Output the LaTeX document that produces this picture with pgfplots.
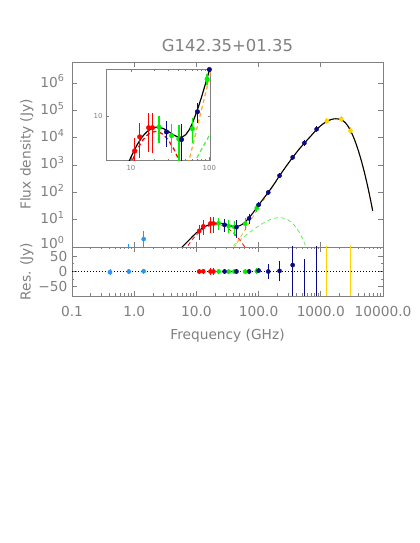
\documentclass[border=0pt]{standalone}
\usepackage{fontspec}
\setmainfont{DejaVu Sans}
\usepackage{pgfplots}
\usepackage{pgfplotstable}
\pgfplotsset{compat=1.18}

\definecolor{axgray}{RGB}{128,128,128}
\definecolor{cnavy}{RGB}{10,10,130}
\definecolor{cred}{RGB}{255,0,0}
\definecolor{cgreen}{RGB}{0,240,0}
\definecolor{cltblue}{RGB}{40,150,255}
\definecolor{cgold}{RGB}{255,210,0}
\definecolor{corange}{RGB}{255,170,50}
\definecolor{cdgreen}{RGB}{90,235,90}

% frequency (GHz), flux (Jy), error, residual, residual error
\pgfplotstableread{
f S e r re
0.408 0.5 0.3 -2 2
0.82 0.75 0.3 0 1.5
1.42 1.95 1.25 1 1.25
}\ltblueT
\pgfplotstableread{
f S e r re
11.1 3.9 1.7 0 1.7
12.9 5.7 2.5 0.5 2.5
16.8 7.3 3.5 0 3.5
18.8 7.3 3.6 0 3.6
}\redT
\pgfplotstableread{
f S e r re
22.8 7.4 2.6 0 2.6
33.0 5.9 2.2 -0.5 2.2
40.7 5.4 2.5 0 2.5
60.7 7.1 2.3 -0.5 2.3
93.5 27 3.7 1 3.7
}\greenT
\pgfplotstableread{
f S e r re
28.4 6.5 2.2 0 2.2
44.1 5.3 2.7 0 2.7
70.4 11.2 3.0 0 3
100 35 1.5 3 2
143 100 4 0 17
217 410 15 2 27
353 1930 100 21 400
545 6430 400 -120 154
857 20800 1500 300 2000
}\navyT
\pgfplotstableread{
f S e r re
1249 41500 3000 500 3000
2141 49500 4000 5000 100
2998 18200 2000 -400 3000
}\goldT

\pgfplotsset{
 idl/.style={scale only axis, clip=true,
  axis line style={axgray, line width=0.8bp},
  tick style={axgray, line width=0.8bp},
  tick align=inside, major tick length=5bp, minor tick length=2.5bp,
  tick label style={text=axgray, font=\fontsize{13.8}{16}\selectfont},
  label style={text=axgray, font=\fontsize{13.8}{16}\selectfont}},
 pt/.style={only marks, mark=*, mark size=2.1bp, color=#1, draw=#1,
  mark options={fill=#1, draw=#1, solid},
  /pgfplots/error bars/y dir=both, /pgfplots/error bars/y explicit,
  /pgfplots/error bars/error bar style={line width=0.9bp, draw=#1, color=#1, solid},
  /pgfplots/error bars/error mark options={mark size=2bp, line width=0.9bp, draw=#1, color=#1}},
 ipt/.style={only marks, mark=*, mark size=2.3bp, color=#1, draw=#1,
  mark options={fill=#1, draw=#1, solid},
  /pgfplots/error bars/y dir=both, /pgfplots/error bars/y explicit,
  /pgfplots/error bars/error mark=none,
  /pgfplots/error bars/error bar style={line width=1.6bp, draw=#1, color=#1, solid}},
 ame/.style={cred, dash pattern=on 4bp off 3bp, line width=#1},
 cmb/.style={cdgreen, dash pattern=on 4bp off 3bp, line width=#1},
 dust/.style={corange, dash pattern=on 4bp off 3bp, line width=#1},
 tot/.style={black, line width=#1},
}

\newcommand{\ameC}{(5,0.24) (6,0.535) (7,0.96) (8,1.51) (9,2.13) (10,2.78) (12,4.07) (14,5.16) (16,5.94) (18,6.40) (20.6,6.6) (23,6.47) (26,6.04) (30,5.23) (35,4.15) (40,3.19) (45,2.41) (50,1.80) (55,1.34) (60,1.00) (70,0.56) (80,0.32) (100,0.11)}
\newcommand{\cmbC}{(10,0.076) (20,0.30) (30,0.67) (40,1.165) (50,1.78) (60,2.49) (70,3.29) (80,4.13) (100,5.91) (120,7.64) (150,9.86) (180,11.32) (217,11.96) (250,11.55) (300,9.78) (350,7.47) (400,5.27) (450,3.49) (500,2.21) (550,1.34) (600,0.785) (700,0.25)}
\newcommand{\hiC}{(1000,28030) (1100,33120) (1249,39820) (1400,45150) (1550,48480) (1700,49840) (1850,49640) (2000,48110) (2141,45540) (2300,41500) (2500,35120) (2750,26390) (3000,18620) (3250,12620) (3500,8360) (3750,5440) (4000,3500) (4500,1420) (5000,569) (5500,228) (6000,92) (6400,45) (6830,21)}
\newcommand{\dustC}{(20,0.07) (30,0.31) (35,0.55) (40,0.91) (45,1.42) (50,2.1) (55,3.0) (60,4.15) (70,7.4) (80,12.2) (90,18.9) (100,28) (120,52) (143,90) (180,201) (217,398) (280,923) (353,1923) (450,3890) (545,6429) (700,12000) (857,20420) \hiC}
\newcommand{\totC}{(5.5,0.87) (6,1.04) (7,1.47) (8,2.02) (9,2.65) (10,3.31) (12,4.63) (14,5.75) (16,6.56) (18,7.06) (20.6,7.41) (23,7.37) (26,7.12) (30,6.60) (35,6.00) (40,5.65) (45,5.67) (50,6.05) (55,6.84) (60,8.01) (70,11.6) (80,17.0) (90,24.5) (100,34.4) (120,60) (143,100) (180,212) (217,410) (280,933) (353,1930) (450,3894) (545,6430) (700,12000) (857,20420) \hiC}

\begin{document}
\begin{tikzpicture}
\useasboundingbox (0,0) rectangle (420bp,-543bp);

% ---------------- main panel
\begin{axis}[idl, at={(72bp,-247bp)}, anchor=south west, width=311bp, height=185bp,
 xmode=log, ymode=log, xmin=0.1, xmax=10000, ymin=1, ymax=6e6,
 xtick={0.1,1,10,100,1000,10000}, xticklabels={}, xminorticks=false, yminorticks=false,
 ytick={1,10,100,1000,10000,100000,1000000},
 yticklabels={\raisebox{2.5bp}{10\textsuperscript{0}},10\textsuperscript{1},10\textsuperscript{2},10\textsuperscript{3},10\textsuperscript{4},10\textsuperscript{5},10\textsuperscript{6}},
 yticklabel style={anchor=base east, yshift=-3.8bp, xshift=-4bp},
 title={G142.35+01.35},
 title style={at={(0.5,1)}, anchor=base, yshift=4.5bp, text=axgray, font=\fontsize{16.5}{19}\selectfont},
 ylabel={Flux density (Jy)},
 ylabel style={at={(axis description cs:-0.145,0.5)}, anchor=center},
]
\addplot[ame=0.8bp] coordinates {\ameC};
\addplot[cmb=0.7bp] coordinates {\cmbC};
\addplot[dust=0.8bp] coordinates {\dustC};
\addplot[tot=1.1bp] coordinates {\totC};
\addplot[pt=cltblue] table[x=f, y=S, y error=e] {\ltblueT};
\addplot[pt=cred] table[x=f, y=S, y error=e] {\redT};
\addplot[pt=cgreen] table[x=f, y=S, y error=e] {\greenT};
\addplot[pt=cnavy] table[x=f, y=S, y error=e] {\navyT};
\addplot[pt=cgold] table[x=f, y=S, y error=e] {\goldT};
\end{axis}

% ---------------- residual panel
\begin{axis}[idl, at={(72bp,-296bp)}, anchor=south west, width=311bp, height=49bp,
 xmode=log, xmin=0.1, xmax=10000, ymin=-80, ymax=80,
 xtick={0.1,1,10,100,1000,10000},
 xticklabels={0.1,1.0,10.0,100.0,1000.0,10000.0},
 xticklabel style={yshift=-7bp},
 ytick={-50,0,50}, yticklabels={−50,0,50}, minor y tick num=1,
 yticklabel style={xshift=-1bp},
 xlabel={Frequency (GHz)},
 xlabel style={at={(axis description cs:0.5,0)}, anchor=base, yshift=-44bp},
 ylabel={Res. (Jy)},
 ylabel style={at={(axis description cs:-0.145,0.5)}, anchor=center},
]
\addplot[black, line width=0.7bp, dash pattern=on 1bp off 2bp] coordinates {(0.1,0) (10000,0)};
\addplot[pt=cltblue] table[x=f, y=r, y error=re] {\ltblueT};
\addplot[pt=cred] table[x=f, y=r, y error=re] {\redT};
\addplot[pt=cgreen] table[x=f, y=r, y error=re] {\greenT};
\addplot[pt=cnavy] table[x=f, y=r, y error=re] {\navyT};
\addplot[pt=cgold] table[x=f, y=r, y error=re] {\goldT};
\end{axis}

% ---------------- inset
\begin{axis}[idl, at={(106bp,-160.3bp)}, anchor=south west, width=104.7bp, height=91bp,
 xmode=log, ymode=log, xmin=4.8, xmax=104, ymin=3.03, ymax=35.2,
 xtick={10,100}, xticklabels={10,100}, ytick={10}, yticklabels={10},
 major tick length=3bp, minor tick length=1.6bp,
 tick label style={font=\fontsize{7}{8}\selectfont},
 xticklabel style={yshift=-2bp},
 axis background/.style={fill=white},
]
\addplot[ame=1.3bp] coordinates {\ameC};
\addplot[cmb=1.3bp] coordinates {\cmbC};
\addplot[dust=1.3bp] coordinates {\dustC};
\addplot[tot=1.2bp] coordinates {\totC};
\addplot[ipt=cred] table[x=f, y=S, y error=e] {\redT};
\addplot[ipt=cgreen] table[x=f, y=S, y error=e] {\greenT};
\addplot[ipt=cnavy] table[x=f, y=S, y error=e] {\navyT};
\end{axis}
\end{tikzpicture}
\end{document}
